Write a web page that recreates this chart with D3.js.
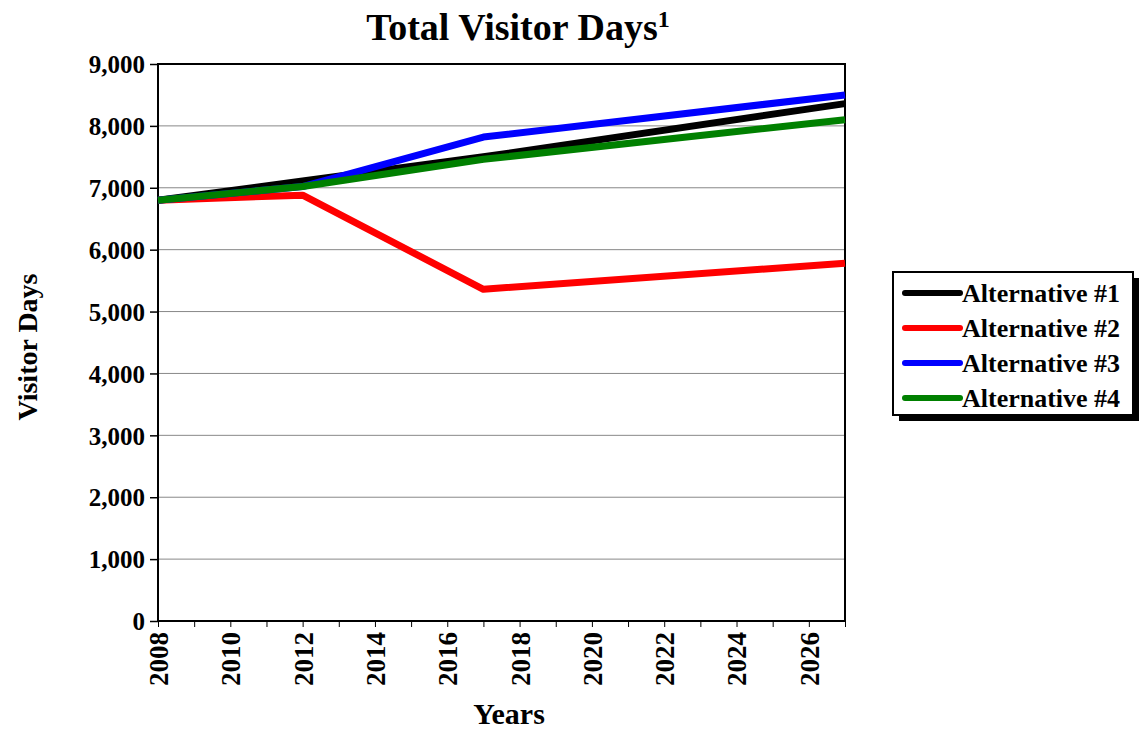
<!DOCTYPE html>
<meta charset="utf-8">
<script src="https://cdn.jsdelivr.net/npm/d3@7"></script>
<style>
	body{margin:0;background:#fff;font-family:"Liberation Serif","Times New Roman",serif;}
	text{font-weight:bold;fill:#000;}
</style>
<div id="chart"></div>
<script>
// data
var seriesNames = ["Alternative #1","Alternative #2","Alternative #3","Alternative #4"]
var seriesColors = ["#000000","#ff0000","#0000ff","#008000"]
var years = [2008, 2012, 2017, 2027]
var alt1 = [6800, 7110, 7500, 8360]
var alt2 = [6800, 6880, 5360, 5780]
var alt3 = [6800, 7020, 7820, 8500]
var alt4 = [6800, 7020, 7460, 8100]
var yTicks = [0,1000,2000,3000,4000,5000,6000,7000,8000,9000]
var xLabels = [2008,2010,2012,2014,2016,2018,2020,2022,2024,2026]

var width = 1142, height = 732
var pLeft = 158, pRight = 845, pTop = 64, pBottom = 621

var svg = d3.select("#chart").append("svg")
	.attr("width", width).attr("height", height)

var x = d3.scaleLinear().domain([2008, 2027]).range([pLeft, pRight])
var y = d3.scaleLinear().domain([0, 9000]).range([pBottom, pTop])

// gridlines
svg.append("g").selectAll("line")
	.data(yTicks.slice(1))
	.enter().append("line")
	.attr("x1", pLeft).attr("x2", pRight)
	.attr("y1", d => y(d)).attr("y2", d => y(d))
	.attr("stroke", "#888").attr("stroke-width", 1)

// y axis
var yAxis = svg.append("g")
	.attr("transform", "translate(" + pLeft + ",0)")
	.call(d3.axisLeft(y).tickValues(yTicks).tickSize(8).tickPadding(5)
		.tickFormat(d3.format(",")))
yAxis.select(".domain").remove()
yAxis.selectAll("line").attr("stroke", "#000").attr("stroke-width", 1.5)
yAxis.selectAll("text").style("font-size", "25px").style("font-family", "Liberation Serif").attr("dy", "0.35em")

// x axis, tick every year
var xAxis = svg.append("g")
	.attr("transform", "translate(0," + pBottom + ")")
	.call(d3.axisBottom(x).tickValues(d3.range(2008, 2028)).tickSize(6)
		.tickFormat(d => xLabels.indexOf(d) > -1 ? d : ""))
xAxis.select(".domain").remove()
xAxis.selectAll("line").attr("stroke", "#000").attr("stroke-width", 1)
xAxis.selectAll("text")
	.style("font-size", "27px").style("font-family", "Liberation Serif")
	.attr("transform", "rotate(-90)")
	.attr("text-anchor", "end")
	.attr("x", -11).attr("y", 0).attr("dy", "0.35em")

// plot frame
svg.append("rect")
	.attr("x", pLeft).attr("y", pTop)
	.attr("width", pRight - pLeft).attr("height", pBottom - pTop)
	.attr("fill", "none").attr("stroke", "#000").attr("stroke-width", 2)

// lines
var allSeries = [alt1, alt2, alt3, alt4]
var line = d3.line().x((d, i) => x(years[i])).y(d => y(d))
svg.append("g").selectAll("path")
	.data(allSeries)
	.enter().append("path")
	.attr("d", d => line(d))
	.attr("fill", "none")
	.attr("stroke", (d, i) => seriesColors[i])
	.attr("stroke-width", 7)
	.attr("stroke-linejoin", "round")

// title
var title = svg.append("text")
	.attr("x", 518).attr("y", 40)
	.attr("text-anchor", "middle")
	.style("font-size", "38px")
title.append("tspan").text("Total Visitor Days")
title.append("tspan").text("1").attr("dy", -13).style("font-size", "24px")

// axis titles
svg.append("text")
	.attr("transform", "translate(37,347) rotate(-90)")
	.attr("text-anchor", "middle")
	.style("font-size", "28px")
	.text("Visitor Days")
svg.append("text")
	.attr("x", 509).attr("y", 724)
	.attr("text-anchor", "middle")
	.style("font-size", "30px")
	.text("Years")

// legend
var lg = svg.append("g").attr("transform", "translate(893,272)")
lg.append("rect").attr("x", 6).attr("y", 6).attr("width", 240).attr("height", 143).attr("fill", "#000")
lg.append("rect").attr("x", 0).attr("y", 0).attr("width", 240).attr("height", 143)
	.attr("fill", "#fff").attr("stroke", "#000").attr("stroke-width", 2)
var item = lg.selectAll(".item")
	.data(seriesNames)
	.enter().append("g")
	.attr("transform", (d, i) => "translate(0," + (21 + i * 35) + ")")
item.append("line")
	.attr("x1", 12).attr("x2", 67)
	.attr("stroke", (d, i) => seriesColors[i])
	.attr("stroke-width", 6).attr("stroke-linecap", "round")
item.append("text")
	.attr("x", 69).attr("dy", "0.35em")
	.style("font-size", "26px")
	.text(d => d)
</script>
